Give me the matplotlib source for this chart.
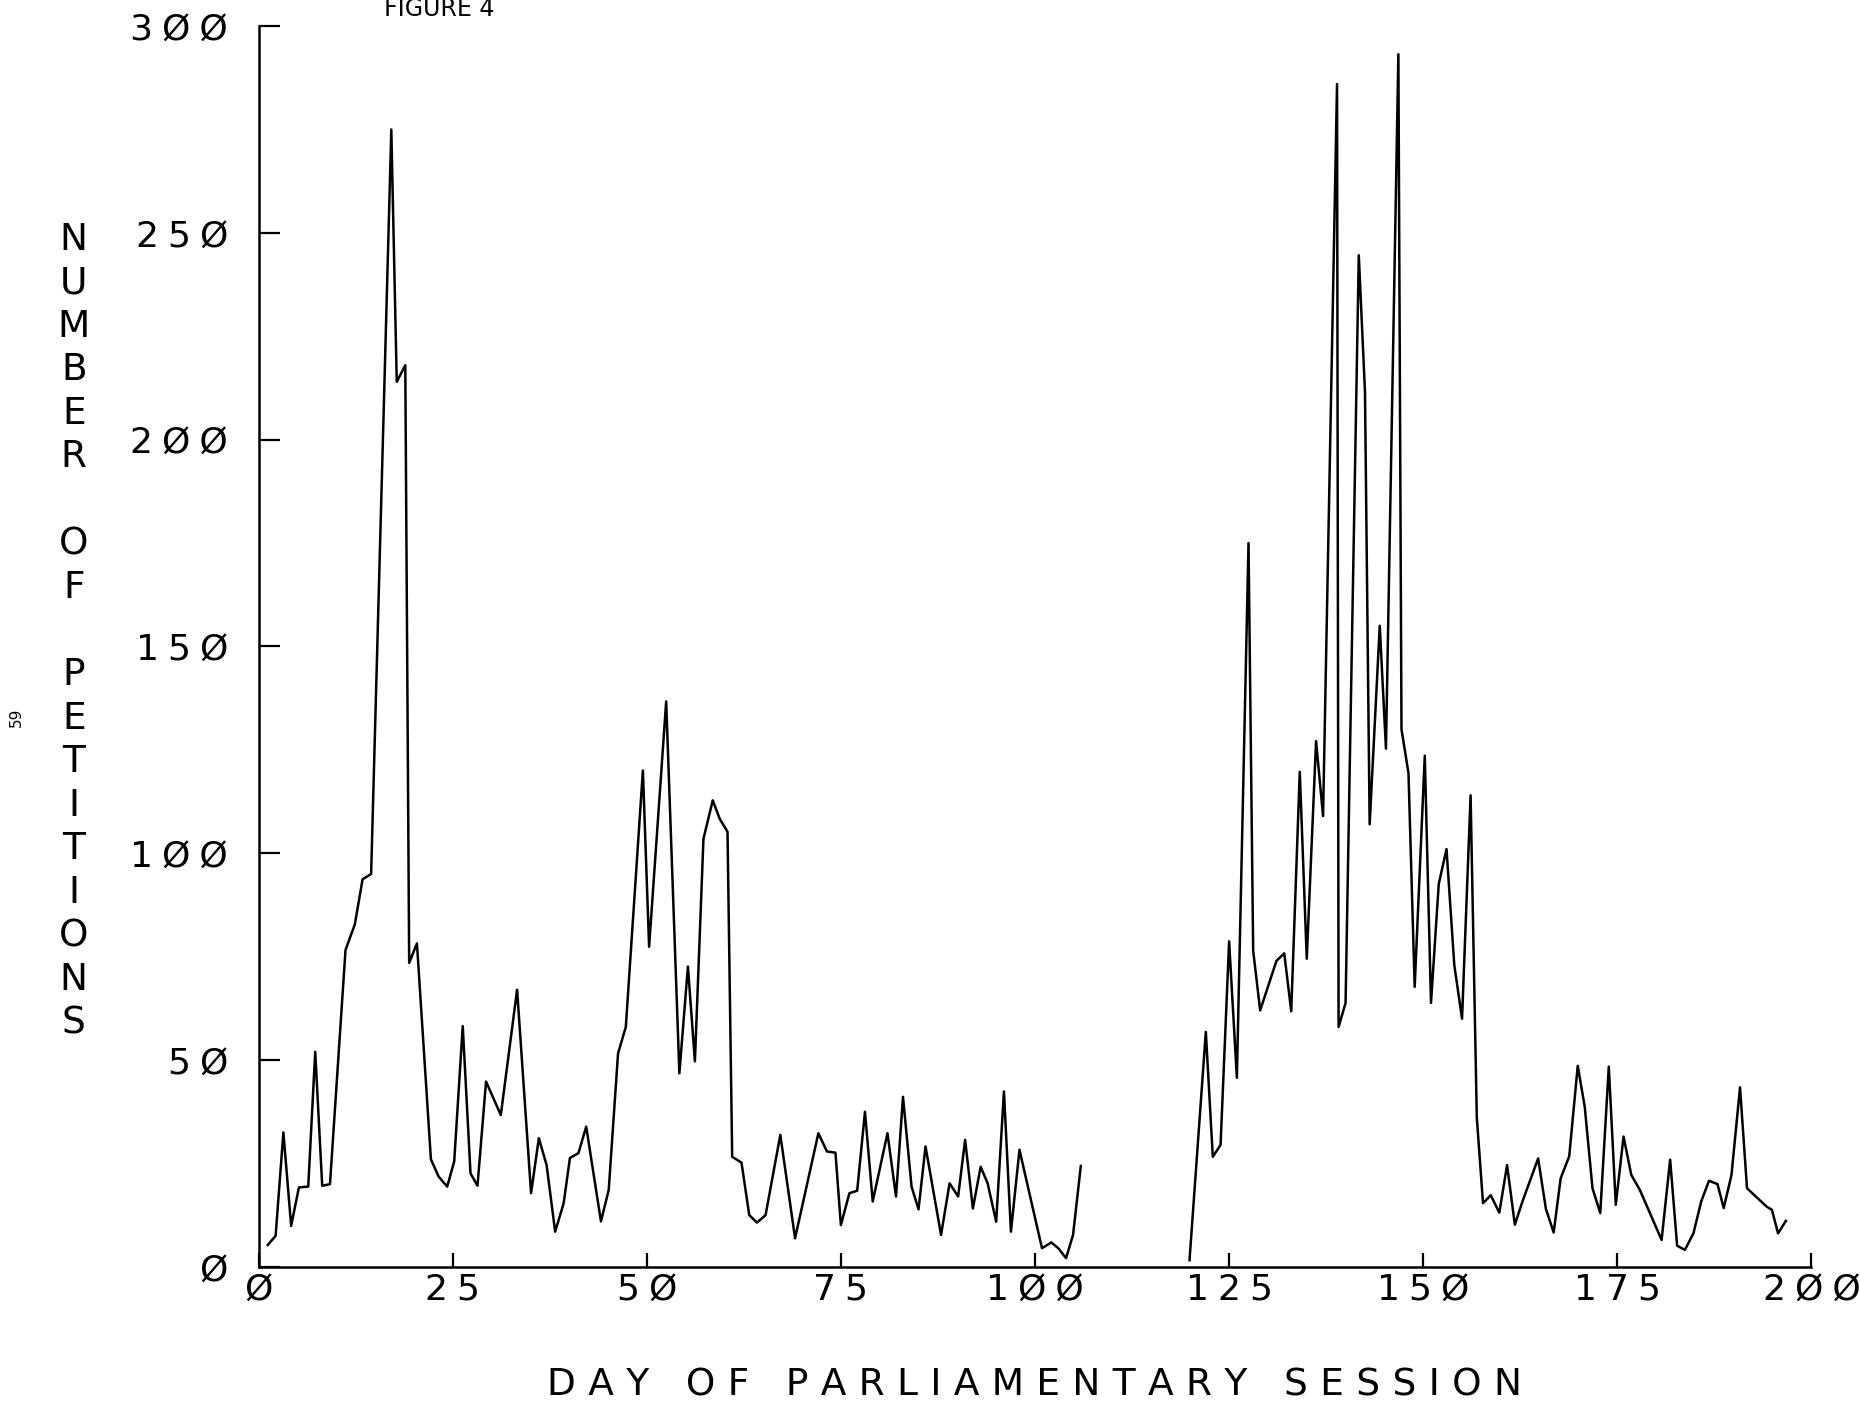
import matplotlib.pyplot as plt
from matplotlib.ticker import FuncFormatter

# Petitions per day (two sittings, gap between)
days_a = [1.2, 2.2, 3.2, 4.2, 5.2, 6.4, 7.3, 8.2, 9.2, 11.2,
          12.4, 13.4, 14.5, 17.1, 17.8, 18.9, 19.4, 20.4, 22.2, 23.2,
          24.3, 25.2, 26.3, 27.3, 28.2, 29.3, 31.2, 33.3, 35.1, 36.1,
          37.1, 38.2, 39.3, 40.1, 41.2, 42.2, 44.1, 45.1, 46.3, 47.3,
          49.5, 50.3, 52.5, 54.2, 55.3, 56.2, 57.3, 58.5, 59.4, 60.4,
          61.0, 62.2, 63.2, 64.2, 65.3, 67.2, 69.1, 72.1, 73.2, 74.3,
          75.0, 76.1, 77.1, 78.1, 79.1, 81.0, 82.1, 83.0, 84.1, 85.0,
          85.9, 87.9, 89.0, 90.1, 91.0, 92.0, 93.0, 93.9, 95.0, 96.0,
          96.9, 98.0, 100.9, 102.1, 103.0, 104.0, 104.9, 105.9]
petitions_a = [5.3, 7.5, 32.5, 9.9, 19.2, 19.4, 52, 19.6, 20, 76.6,
               82.8, 93.7, 95, 275, 214, 218, 73.5, 78.2, 26, 21.8,
               19.4, 25.5, 58.2, 22.6, 19.6, 44.8, 36.7, 67, 17.8, 31.1,
               24.6, 8.5, 15.4, 26.3, 27.5, 33.9, 11, 18.6, 51.6, 58,
               120, 77.4, 136.7, 46.8, 72.6, 49.7, 103.5, 112.8, 108.3, 105.2,
               26.6, 25.2, 12.5, 10.7, 12.5, 31.9, 6.9, 32.3, 27.9, 27.6,
               10.1, 17.8, 18.4, 37.5, 15.8, 32.3, 17, 41.1, 19.4, 13.9,
               29.1, 7.7, 20.2, 17, 30.7, 14.1, 24.2, 20.2, 10.9, 42.4,
               8.5, 28.3, 4.5, 5.9, 4.5, 2.1, 7.7, 24.4]

days_b = [119.9, 122.0, 122.9, 123.9, 125.0, 126.0, 127.5, 128.1, 129.0, 131.1,
          132.1, 133.0, 134.1, 135.0, 136.2, 137.1, 138.9, 139.1, 140.0, 141.7,
          142.5, 143.1, 144.4, 145.2, 146.8, 147.2, 148.1, 148.9, 150.2, 151.0,
          152.0, 153.0, 154.0, 155.0, 156.1, 156.9, 157.7, 158.7, 159.8, 160.8,
          161.8, 162.8, 164.8, 165.8, 166.8, 167.7, 168.8, 169.9, 170.8, 171.8,
          172.8, 173.9, 174.8, 175.8, 176.8, 177.9, 180.7, 181.8, 182.7, 183.7,
          184.8, 185.8, 186.8, 187.9, 188.7, 189.7, 190.8, 191.7, 194.2, 194.9,
          195.7, 196.7]
petitions_b = [1.6, 56.8, 26.6, 29.5, 78.7, 45.7, 175, 76.4, 62, 74,
               75.8, 61.8, 119.7, 74.5, 127.1, 109, 286, 58, 63.8, 244.6,
               211.5, 107, 155, 125.3, 293.2, 130, 119.4, 67.7, 123.6, 63.8,
               92.6, 101, 73, 60, 114, 36.1, 15.4, 17.3, 13.1, 24.6,
               10.2, 15.9, 26.2, 14, 8.3, 21.4, 26.7, 48.6, 38.7, 19,
               13, 48.4, 15, 31.5, 22.2, 18.6, 6.5, 25.9, 5.1, 4.1,
               8.1, 15.8, 20.8, 20, 14.2, 22.2, 43.4, 19, 14.6, 13.8,
               8.1, 11.1]

x_ticks = [0, 25, 50, 75, 100, 125, 150, 175, 200]
y_ticks = [0, 50, 100, 150, 200, 250, 300]


def plotter(s, sp='\u2005'):
    # pen-plotter look: slashed zeros, wide letter spacing
    return sp.join(s.replace('0', '\u00d8'))


plt.rcParams['font.family'] = ['DejaVu Sans']

fig = plt.figure(figsize=(18.6, 14.04), dpi=100)
ax = fig.add_axes([0.139, 0.0977, 0.8349, 0.8837])

ax.plot(days_a, petitions_a, color='black', lw=1.8)
ax.plot(days_b, petitions_b, color='black', lw=1.8)

ax.set_xlim(0, 200)
ax.set_ylim(0, 300)
ax.set_xticks(x_ticks)
ax.set_yticks(y_ticks)
fmt = FuncFormatter(lambda v, p: plotter(f'{v:.0f}'))
ax.xaxis.set_major_formatter(fmt)
ax.yaxis.set_major_formatter(fmt)

ax.spines[['top', 'right']].set_visible(False)
ax.spines[['left', 'bottom']].set_linewidth(1.8)
ax.tick_params(axis='y', direction='in', length=15, width=1.6, pad=22, labelsize=26)
ax.tick_params(axis='x', direction='in', length=10, width=1.6, pad=4, labelsize=26)

ax.set_xlabel(plotter('DAY OF PARLIAMENTARY SESSION', '\u2004'), fontsize=27, labelpad=44)
ax.set_ylabel('\n'.join('NUMBER OF PETITIONS'), rotation=0,
              fontsize=27, linespacing=1.27, ha='center', va='center')
ax.yaxis.set_label_coords(-0.119, 0.512)

fig.text(439 / 1860, 1 - 9.5 / 1404, 'FIGURE 4', ha='center', va='center',
         fontsize=17, family=['Liberation Sans Narrow', 'DejaVu Sans'])
fig.text(16.6 / 1860, 1 - 717.6 / 1404, '59', rotation=90, ha='center', va='center',
         fontsize=11)

fig.savefig('out.png', dpi=100)
